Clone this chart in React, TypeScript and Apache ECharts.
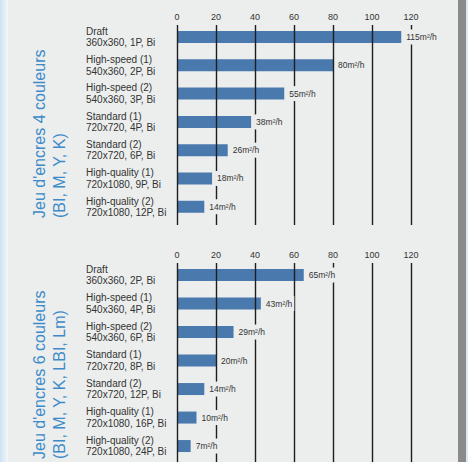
import React, { useEffect, useRef } from "react";
import * as echarts from "echarts";

const topCategories = [
  "Draft\n360x360, 1P, Bi",
  "High-speed (1)\n540x360, 2P, Bi",
  "High-speed (2)\n540x360, 3P, Bi",
  "Standard (1)\n720x720, 4P, Bi",
  "Standard (2)\n720x720, 6P, Bi",
  "High-quality (1)\n720x1080, 9P, Bi",
  "High-quality (2)\n720x1080, 12P, Bi",
];
const topValues = [115, 80, 55, 38, 26, 18, 14];

const bottomCategories = [
  "Draft\n360x360, 2P, Bi",
  "High-speed (1)\n540x360, 4P, Bi",
  "High-speed (2)\n540x360, 6P, Bi",
  "Standard (1)\n720x720, 8P, Bi",
  "Standard (2)\n720x720, 12P, Bi",
  "High-quality (1)\n720x1080, 16P, Bi",
  "High-quality (2)\n720x1080, 24P, Bi",
];
const bottomValues = [65, 43, 29, 20, 14, 10, 7];

const xTicks = { min: 0, max: 120, interval: 20 };
const unit = "m²/h";

const topTitle = ["Jeu d'encres 4 couleurs", "(BI, M, Y, K)"];
const bottomTitle = ["Jeu d'encres 6 couleurs", "(BI, M, Y, K, LBI, Lm)"];

const BG = "#eceeed";
const BAR = "#4a79ae";
const TEXT = "#333333";
const BLUE = "#3d8bc9";
const FONT = "'Liberation Sans', Arial, Helvetica, sans-serif";

export default function App() {
  const ref = useRef<HTMLDivElement>(null);

  useEffect(() => {
    if (!ref.current) return;
    const chart = echarts.init(ref.current, undefined, { renderer: "svg" });

    const left = 177;
    const width = 234;

    const barGrid = (top: number, height: number) => ({ left, width, top, height });

    const grids = [
      barGrid(22.9, 198),
      barGrid(25, 200),
      barGrid(260.8, 199.5),
      barGrid(263, 215),
    ];

    const xAxes = grids.map((_, i) => {
      const isLines = i % 2 === 1;
      return {
        type: "value",
        gridIndex: i,
        min: xTicks.min,
        max: xTicks.max,
        interval: xTicks.interval,
        position: "top",
        z: isLines ? 3 : 0,
        show: isLines,
        axisLine: { show: false },
        axisTick: { show: false },
        axisLabel: {
          show: isLines,
          color: TEXT,
          fontSize: 9,
          fontFamily: FONT,
          margin: 4,
        },
        splitLine: {
          show: isLines,
          lineStyle: { color: "#1e1e1e", width: 1.4 },
        },
      };
    });

    const yAxes = grids.map((_, i) => {
      const isLines = i % 2 === 1;
      const cats = i < 2 ? topCategories : bottomCategories;
      return {
        type: "category",
        gridIndex: i,
        data: cats,
        inverse: true,
        show: !isLines,
        axisLine: { show: false },
        axisTick: { show: false },
        splitLine: { show: false },
        axisLabel: {
          show: !isLines,
          align: "left",
          margin: 91,
          color: TEXT,
          fontSize: 10,
          lineHeight: 11.5,
          fontFamily: FONT,
        },
      };
    });

    const makeSeries = (values: number[], axisIndex: number) => [
      {
        type: "bar",
        xAxisIndex: axisIndex,
        yAxisIndex: axisIndex,
        data: values,
        barWidth: 12,
        itemStyle: { color: BAR },
        z: 2,
        silent: true,
      },
      {
        type: "bar",
        xAxisIndex: axisIndex,
        yAxisIndex: axisIndex,
        data: values,
        barWidth: 12,
        barGap: "-100%",
        itemStyle: { color: "rgba(0,0,0,0)" },
        z: 5,
        silent: true,
        label: {
          show: true,
          position: "right",
          distance: 3,
          formatter: (p: any) => `${p.value}${unit}`,
          color: TEXT,
          fontSize: 8.5,
          fontFamily: FONT,
          backgroundColor: BG,
          padding: [3, 2, 3, 2],
        },
      },
    ];

    const titleText = (lines: string[], baseY: number) =>
      lines.map((t, k) => ({
        type: "text",
        x: 39 + k * 20,
        y: baseY,
        rotation: Math.PI / 2,
        z: 10,
        style: {
          text: t,
          fill: BLUE,
          fontSize: 16,
          fontFamily: FONT,
          textAlign: "left",
          textVerticalAlign: "middle",
        },
      }));

    chart.setOption({
      animation: false,
      backgroundColor: BG,
      grid: grids,
      xAxis: xAxes,
      yAxis: yAxes,
      series: [...makeSeries(topValues, 0), ...makeSeries(bottomValues, 2)],
      graphic: [
        {
          type: "rect",
          shape: { x: 0, y: 0, width: 8, height: 462 },
          z: -1,
          style: {
            fill: new echarts.graphic.LinearGradient(0, 0, 1, 0, [
              { offset: 0, color: "#cfe2f1" },
              { offset: 1, color: "#f2f7fb" },
            ]),
          },
        },
        {
          type: "rect",
          shape: { x: 458, y: 0, width: 8, height: 462 },
          style: { fill: "#8a8a8a" },
        },
        {
          type: "rect",
          shape: { x: 466, y: 0, width: 2, height: 462 },
          style: { fill: "#dce9f4" },
        },
        ...titleText(topTitle, 218),
        ...titleText(bottomTitle, 459),
      ],
    });

    return () => chart.dispose();
  }, []);

  return (
    <div
      ref={ref}
      style={{ position: "fixed", left: 0, top: 0, width: 468, height: 462 }}
    />
  );
}
